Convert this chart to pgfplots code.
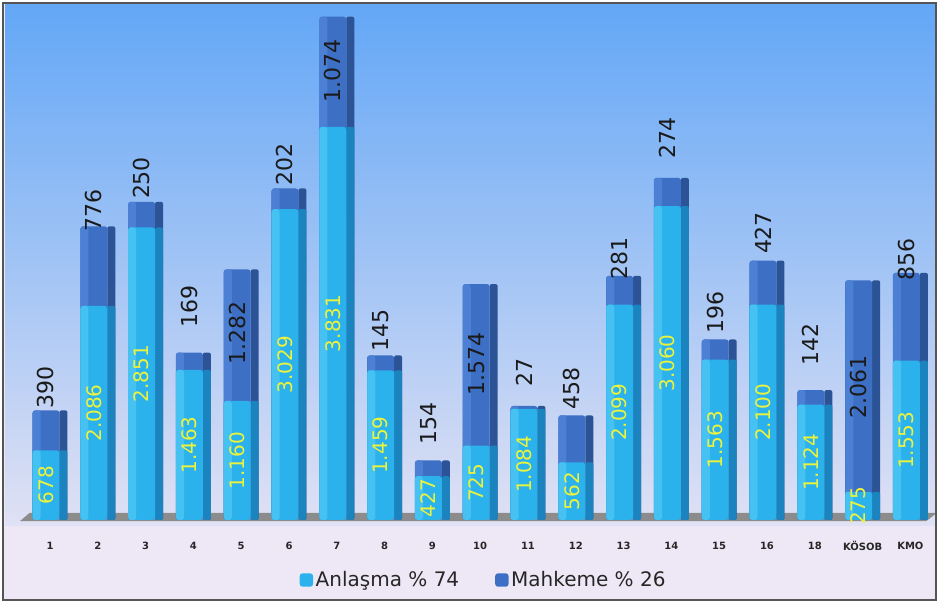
\documentclass[border=0pt]{standalone}
\usepackage{pgfplots}
\pgfplotsset{compat=1.18}
\usepackage{pgfplotstable}
\usepackage{fontspec}
\setmainfont{DejaVu Sans}

\definecolor{lbhi}{HTML}{45C1F2}
\definecolor{lbf}{HTML}{2BB1EB}
\definecolor{lbs}{HTML}{1B84BF}
\definecolor{dbhi}{HTML}{4B80D4}
\definecolor{dbf}{HTML}{3D6FC5}
\definecolor{dbs}{HTML}{2B5396}
\definecolor{bgtop}{HTML}{63A7F6}
\definecolor{bgmid}{HTML}{96C1F3}
\definecolor{bgbot}{HTML}{E0E1F4}
\definecolor{panelbg}{HTML}{EEE8F6}
\definecolor{framecol}{HTML}{555555}
\definecolor{floorcol}{HTML}{8C8C8C}
\definecolor{labyellow}{RGB}{236,243,60}
\definecolor{labblack}{HTML}{1A1A1A}

\pgfplotstableread{
x a m ly al ml
0 678 390 1287 678 390
1 2086 776 3012 2.086 776
2 2851 250 3333 2.851 250
3 1463 169 2076 1.463 169
4 1160 1282 1820 1.160 1.282
5 3029 202 3460 3.029 202
6 3831 1074 4380 3.831 1.074
7 1459 145 1842 1.459 145
8 427 154 945 427 154
9 725 1574 1520 725 1.574
10 1084 27 1442 1.084 27
11 562 458 1277 562 458
12 2099 281 2544 2.099 281
13 3060 274 3723 3.060 274
14 1563 196 2018 1.563 196
15 2100 427 2797 2.100 427
16 1124 142 1706 1.124 142
17 275 2061 1300 275 2.061
18 1553 856 2534 1.553 856
}\data

\begin{document}
\begin{tikzpicture}
\useasboundingbox (-3.75pt,-58.5pt) rectangle (700.5pt,393.75pt);
\fill[panelbg] (-1.5pt,-56.25pt) rectangle (698.25pt,391.5pt);
\begin{axis}[
  at={(0pt,0pt)}, anchor=south west,
  scale only axis, width=697.5pt, height=390.75pt,
  xmin=-0.941, xmax=18.515, ymin=-49, ymax=5029,
  clip=false,
  axis line style={draw=none},
  axis background/.style={top color=bgtop, middle color=bgmid, bottom color=bgbot},
  ytick=\empty,
  xtick={0,...,18},
  xticklabels={1,2,3,4,5,6,7,8,9,10,11,12,13,14,15,16,18,KÖSOB,KMO},
  major tick length=0pt,
  xtick style={draw=none},
  xticklabel style={font=\bfseries\fontsize{7.5}{8}\selectfont, text=black!85, anchor=center, yshift=-15.75pt},
  legend style={at={(0.515,-0.1056)}, anchor=center, draw=none, fill=none,
    font=\fontsize{15}{18}\selectfont, text=black!85, inner sep=0pt,
    /tikz/every even column/.append style={column sep=25pt}},
  legend columns=2,
  reverse legend,
  legend image code/.code={\path[#1] (0pt,-5pt) rectangle (10pt,5pt);},
  frontbar/.style={ybar, bar width=20.25pt, bar shift=-3pt, draw=none, rounded corners=2pt},
  sidebar/.style={ybar, bar width=6pt, bar shift=10.125pt, draw=none, rounded corners=1.5pt},
  hibar/.style={ybar, bar width=6pt, bar shift=-10pt, draw=none, rounded corners=2pt},
]
\fill[floorcol] (axis cs:-0.63,-12) -- (axis cs:18.33,-12) -- (axis cs:18.55,68) -- (axis cs:-0.43,68) -- cycle;

% Mahkeme (upper segment), drawn as the full stack height
\addplot[forget plot, sidebar, fill=dbs] table[x=x, y expr=\thisrow{a}+\thisrow{m}] {\data};
\addplot[frontbar, fill=dbf] table[x=x, y expr=\thisrow{a}+\thisrow{m}] {\data};
\addlegendentry{Mahkeme \% 26}
\addplot[forget plot, hibar, fill=dbhi] table[x=x, y expr=\thisrow{a}+\thisrow{m}] {\data};
% Anlasma (lower segment)
\addplot[forget plot, sidebar, fill=lbs] table[x=x, y=a] {\data};
\addplot[frontbar, fill=lbf] table[x=x, y=a] {\data};
\addlegendentry{Anlaşma \% 74}
\addplot[forget plot, hibar, fill=lbhi] table[x=x, y=a] {\data};

\addplot[forget plot, draw=none, mark=none, nodes near coords, point meta=explicit symbolic,
  every node near coord/.append style={xshift=-3pt, rotate=90, anchor=center, inner sep=0pt,
    font=\fontsize{15}{15}\selectfont, text=labyellow}]
  table[x=x, y expr=\thisrow{a}/2, meta=al] {\data};
\addplot[forget plot, draw=none, mark=none, nodes near coords, point meta=explicit symbolic,
  every node near coord/.append style={xshift=-3pt, rotate=90, anchor=center, inner sep=0pt,
    font=\fontsize{16.5}{16.5}\selectfont, text=labblack}]
  table[x=x, y=ly, meta=ml] {\data};
\end{axis}
\draw[framecol, line width=0.9pt] (-1.5pt,-56.25pt) rectangle (698.25pt,391.5pt);
\end{tikzpicture}
\end{document}
